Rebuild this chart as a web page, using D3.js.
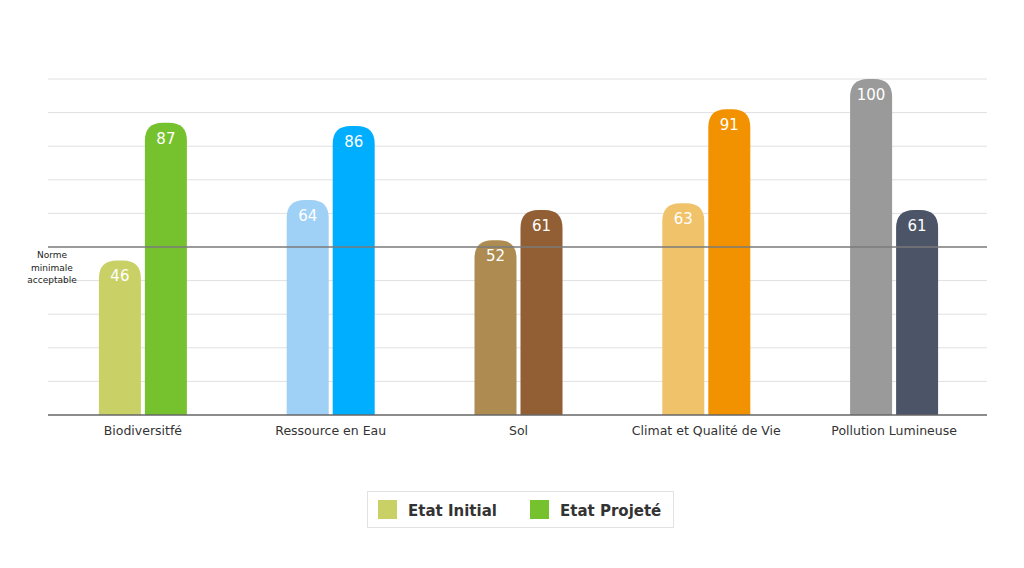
<!DOCTYPE html>
<html><head><meta charset="utf-8">
<script src="https://cdn.jsdelivr.net/npm/d3@7/dist/d3.min.js"></script>
<style>body{margin:0;background:#fff;} svg{display:block;font-family:"DejaVu Sans",sans-serif;}</style>
</head><body>
<svg id="c" width="1024" height="568"></svg>
<script>
const categories = ["Biodiversitfé","Ressource en Eau","Sol","Climat et Qualité de Vie","Pollution Lumineuse"];
const initialValues = [46,64,52,63,100];
const projectedValues = [87,86,61,91,61];
const initialColors = ["#c9d166","#9fd0f5","#ad8b51","#f0c36b","#9a9a9a"];
const projectedColors = ["#76c22e","#00aeff","#925f35","#f39200","#4b5567"];
const seriesNames = ["Etat Initial","Etat Projeté"];
const yTicks = [0,10,20,30,40,50,60,70,80,90,100];
const normValue = 50;

const svg = d3.select("#c");
const m = {l:49, r:36, t:79, b:153};
const W = 1024, H = 568;
const x = d3.scaleBand().domain(categories).range([m.l, W-m.r]);
const y = d3.scaleLinear().domain([0,100]).range([H-m.b, m.t]);

// gridlines
svg.append("g").selectAll("line").data(yTicks.filter(t=>t>0 && t!==normValue)).join("line")
  .attr("x1", 48).attr("x2", 987).attr("y1", d=>y(d)).attr("y2", d=>y(d))
  .attr("stroke", "#e0e0e0").attr("stroke-width", 1);

const bw = 42, gap = 4;
const data = [];
categories.forEach((c,i)=>{
  data.push({c, v:initialValues[i], col:initialColors[i], off:-gap/2-bw});
  data.push({c, v:projectedValues[i], col:projectedColors[i], off:gap/2});
});
function barPath(x0, y0, w, h, r){
  r = Math.min(r, w/2, h);
  return `M${x0},${y0+h}V${y0+r}Q${x0},${y0} ${x0+r},${y0}H${x0+w-r}Q${x0+w},${y0} ${x0+w},${y0+r}V${y0+h}Z`;
}
svg.append("g").selectAll("path").data(data).join("path")
  .attr("d", d=>{const cx = x(d.c)+x.bandwidth()/2; return barPath(cx+d.off, y(d.v), bw, y(0)-y(d.v), 18);})
  .attr("fill", d=>d.col);
svg.append("g").selectAll("text").data(data).join("text")
  .attr("x", d=>x(d.c)+x.bandwidth()/2+d.off+bw/2).attr("y", d=>y(d.v)+21)
  .attr("text-anchor","middle").attr("fill","#fff").attr("font-size",15)
  .text(d=>d.v);

// norm line
svg.append("line").attr("x1", 48).attr("x2", 987).attr("y1", y(normValue)).attr("y2", y(normValue))
  .attr("stroke","#7a7a7a").attr("stroke-width",1.5);
const nl = svg.append("text").attr("text-anchor","middle").attr("font-size",9).attr("fill","#222");
["Norme","minimale","acceptable"].forEach((t,i)=>nl.append("tspan").attr("x",52).attr("y",258+i*12.5).text(t));

// x axis
const xa = svg.append("g").attr("transform",`translate(0,${y(0)})`).call(d3.axisBottom(x).tickSize(0).tickPadding(11));
xa.select(".domain").attr("stroke","#666").attr("stroke-width",1.5).attr("d","M48,0H987");
xa.selectAll("text").attr("font-size",12.5).attr("fill","#333").attr("font-family","DejaVu Sans, sans-serif");

// legend
const lg = svg.append("g");
lg.append("rect").attr("x",367.5).attr("y",491.5).attr("width",306).attr("height",36).attr("fill","#fff").attr("stroke","#e2e2e2");
const lx = [378,530];
seriesNames.forEach((s,i)=>{
  lg.append("rect").attr("x",lx[i]).attr("y",500).attr("width",19).attr("height",19).attr("fill",[initialColors[0],projectedColors[0]][i]);
  lg.append("text").attr("x",lx[i]+30).attr("y",516).attr("font-size",15).attr("font-weight","bold").attr("fill","#333").text(s);
});
</script>
</body></html>
